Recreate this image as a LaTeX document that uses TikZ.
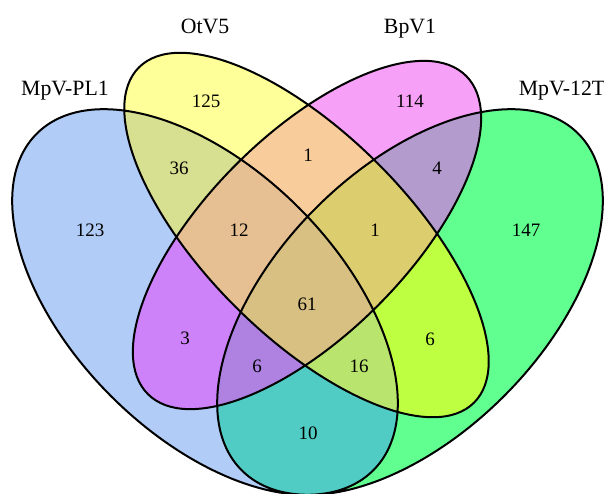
\documentclass[tikz,border=0pt]{standalone}
\usepackage{fontspec}
\setmainfont{Liberation Serif}

\definecolor{colPL}{HTML}{B0CCF7}
\definecolor{colOt}{HTML}{FFFF99}
\definecolor{colBp}{HTML}{F7A0F7}
\definecolor{colMT}{HTML}{60FF90}
\definecolor{colPLOt}{HTML}{D7E090}
\definecolor{colOtBp}{HTML}{F9CD9B}
\definecolor{colBpMT}{HTML}{B49BCD}
\definecolor{colPLBp}{HTML}{CD82FA}
\definecolor{colOtMT}{HTML}{BEFF41}
\definecolor{colPLMT}{HTML}{50CCC4}
\definecolor{colPLOtBp}{HTML}{E6C092}
\definecolor{colOtBpMT}{HTML}{DCCD6E}
\definecolor{colPLBpMT}{HTML}{AF82E1}
\definecolor{colPLOtMT}{HTML}{B9E46E}
\definecolor{colAll}{HTML}{D7C082}

% the four sets
\def\ellPL{(205,302) circle[x radius=238, y radius=133, rotate=135]}
\def\ellOt{(306.5,235) circle[x radius=237, y radius=101, rotate=135]}
\def\ellBp{(307,235) circle[x radius=225, y radius=100, rotate=45]}
\def\ellMT{(410,302) circle[x radius=238, y radius=133, rotate=45]}

\tikzset{
  num/.style={font=\fontsize{19}{20}\selectfont},
  setname/.style={font=\fontsize{21.8}{24}\selectfont, anchor=base}
}

\begin{document}
\begin{tikzpicture}[x=1pt,y=-1pt]
  \useasboundingbox (0,0) rectangle (604,493);
  % single sets
  \fill[colPL] \ellPL;
  \fill[colOt] \ellOt;
  \fill[colBp] \ellBp;
  \fill[colMT] \ellMT;
  % two sets
  \begin{scope}\clip \ellPL; \fill[colPLOt] \ellOt; \end{scope}
  \begin{scope}\clip \ellPL; \fill[colPLBp] \ellBp; \end{scope}
  \begin{scope}\clip \ellPL; \fill[colPLMT] \ellMT; \end{scope}
  \begin{scope}\clip \ellOt; \fill[colOtBp] \ellBp; \end{scope}
  \begin{scope}\clip \ellOt; \fill[colOtMT] \ellMT; \end{scope}
  \begin{scope}\clip \ellBp; \fill[colBpMT] \ellMT; \end{scope}
  % three sets
  \begin{scope}\clip \ellPL; \clip \ellOt; \fill[colPLOtBp] \ellBp; \end{scope}
  \begin{scope}\clip \ellPL; \clip \ellOt; \fill[colPLOtMT] \ellMT; \end{scope}
  \begin{scope}\clip \ellPL; \clip \ellBp; \fill[colPLBpMT] \ellMT; \end{scope}
  \begin{scope}\clip \ellOt; \clip \ellBp; \fill[colOtBpMT] \ellMT; \end{scope}
  % all four
  \begin{scope}\clip \ellPL; \clip \ellOt; \clip \ellBp; \fill[colAll] \ellMT; \end{scope}
  % outlines
  \draw[line width=2pt] \ellPL \ellOt \ellBp \ellMT;

  % counts
  \node[num] (nPL) at (90,230) {123};
  \node[num] (nOt) at (206,101) {125};
  \node[num] (nBp) at (410,101) {114};
  \node[num] (nMT) at (526,230) {147};
  \node[num] (nPLOt) at (179,168) {36};
  \node[num] (nOtBp) at (308,155) {1};
  \node[num] (nBpMT) at (437,168) {4};
  \node[num] (nPLOtBp) at (239,230) {12};
  \node[num] (nOtBpMT) at (375,230) {1};
  \node[num] (nAll) at (307,304) {61};
  \node[num] (nPLBp) at (185,338) {3};
  \node[num] (nPLBpMT) at (257,366) {6};
  \node[num] (nPLOtMT) at (359,366) {16};
  \node[num] (nOtMT) at (430,339) {6};
  \node[num] (nPLMT) at (308,433) {10};

  % set names
  \node[setname] (lPL) at (65,95) {MpV-PL1};
  \node[setname] (lOt) at (205,33) {OtV5};
  \node[setname] (lBp) at (410,33) {BpV1};
  \node[setname] (lMT) at (562,95) {MpV-12T};
\end{tikzpicture}
\end{document}
